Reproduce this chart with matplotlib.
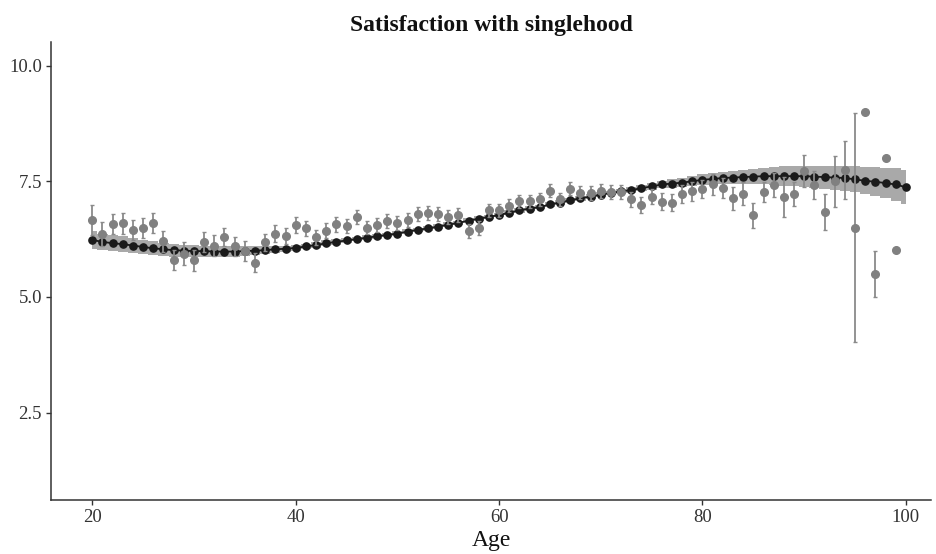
import numpy as np
import matplotlib
matplotlib.use("Agg")
import matplotlib.pyplot as plt

plt.rcParams['font.family'] = ['Liberation Serif', 'DejaVu Serif']

# ---- data ----
fit_age = list(range(20, 101))
fit_value = [6.23, 6.19, 6.16, 6.14, 6.11, 6.08, 6.05, 6.03, 6.01, 6.00,
             5.99, 5.99, 5.98, 5.98, 5.98, 5.99, 6.00, 6.01, 6.03, 6.04,
             6.06, 6.09, 6.12, 6.16, 6.19, 6.22, 6.25, 6.28, 6.31, 6.34,
             6.37, 6.41, 6.45, 6.48, 6.52, 6.56, 6.60, 6.65, 6.69, 6.73,
             6.77, 6.82, 6.87, 6.91, 6.94, 7.00, 7.04, 7.09, 7.13, 7.17,
             7.21, 7.25, 7.28, 7.31, 7.35, 7.39, 7.43, 7.45, 7.47, 7.50,
             7.53, 7.55, 7.57, 7.58, 7.59, 7.60, 7.61, 7.61, 7.61, 7.61,
             7.61, 7.60, 7.59, 7.58, 7.57, 7.54, 7.51, 7.49, 7.46, 7.43,
             7.37]
fit_halfwidth = [0.19, 0.18, 0.17, 0.17, 0.16, 0.15, 0.15, 0.14, 0.14, 0.13,
                 0.13, 0.12, 0.12, 0.11, 0.11, 0.10, 0.09, 0.08, 0.08, 0.07,
                 0.07, 0.06, 0.06, 0.06, 0.06, 0.05, 0.05, 0.05, 0.05, 0.05,
                 0.05, 0.05, 0.05, 0.05, 0.05, 0.05, 0.05, 0.05, 0.05, 0.05,
                 0.05, 0.05, 0.05, 0.05, 0.05, 0.05, 0.05, 0.05, 0.05, 0.05,
                 0.05, 0.05, 0.06, 0.06, 0.07, 0.07, 0.08, 0.09, 0.10, 0.11,
                 0.12, 0.13, 0.14, 0.15, 0.16, 0.17, 0.18, 0.19, 0.21, 0.22,
                 0.23, 0.24, 0.25, 0.26, 0.27, 0.28, 0.29, 0.31, 0.33, 0.35,
                 0.37]

obs_age = list(range(20, 100))
obs_mean = [6.66, 6.36, 6.57, 6.59, 6.45, 6.49, 6.60, 6.20, 5.80, 5.93,
            5.79, 6.18, 6.11, 6.30, 6.09, 5.99, 5.74, 6.18, 6.37, 6.32,
            6.56, 6.48, 6.29, 6.43, 6.57, 6.53, 6.73, 6.50, 6.55, 6.65,
            6.59, 6.66, 6.80, 6.82, 6.79, 6.73, 6.77, 6.42, 6.49, 6.87,
            6.87, 6.97, 7.07, 7.07, 7.11, 7.30, 7.11, 7.34, 7.25, 7.25,
            7.29, 7.27, 7.27, 7.11, 6.99, 7.17, 7.06, 7.04, 7.23, 7.28,
            7.33, 7.43, 7.36, 7.13, 7.23, 6.76, 7.27, 7.42, 7.16, 7.23,
            7.72, 7.42, 6.84, 7.50, 7.75, 6.50, 9.00, 5.49, 8.00, 6.02]
obs_err = [0.32, 0.25, 0.22, 0.22, 0.22, 0.22, 0.22, 0.22, 0.22, 0.25,
           0.22, 0.22, 0.22, 0.20, 0.20, 0.22, 0.20, 0.18, 0.18, 0.17,
           0.17, 0.16, 0.16, 0.16, 0.16, 0.15, 0.15, 0.15, 0.15, 0.15,
           0.15, 0.15, 0.15, 0.15, 0.15, 0.15, 0.15, 0.15, 0.15, 0.14,
           0.14, 0.14, 0.14, 0.14, 0.14, 0.14, 0.14, 0.14, 0.14, 0.15,
           0.15, 0.15, 0.15, 0.16, 0.17, 0.17, 0.18, 0.18, 0.19, 0.20,
           0.20, 0.22, 0.22, 0.25, 0.25, 0.28, 0.22, 0.26, 0.44, 0.26,
           0.35, 0.31, 0.39, 0.55, 0.63, 2.48, 0.0, 0.50, 0.0, 0.0]

x_ticks = [20, 40, 60, 80, 100]
y_ticks = [2.5, 5.0, 7.5, 10.0]
y_ticklabels = ["2.5", "5.0", "7.5", "10.0"]

# ---- figure ----
fig = plt.figure(figsize=(9.36, 5.54), dpi=100)
ax = fig.add_axes([51/936, 1 - 500/554, (931 - 51)/936, (500 - 42)/554])

fa = np.array(fit_age, dtype=float)
fv = np.array(fit_value)
fh = np.array(fit_halfwidth)
ax.fill_between(fa, fv - fh, fv + fh, step='mid', color='#a9a9a9',
                linewidth=0, zorder=1)
ax.plot(fa, fv, '-o', color='#1a1a1a', lw=1.3, ms=5.2, zorder=2)

oe = np.array(obs_err)
ax.errorbar(obs_age, obs_mean, yerr=np.where(oe > 0, oe, np.nan), fmt='o',
            color='#808080', ecolor='#8a8a8a', ms=5.5, elinewidth=1.3,
            capsize=1.5, capthick=1.0, zorder=3)

ax.set_xlim(15.94, 102.47)
ax.set_ylim(0.61, 10.51)
ax.set_xticks(x_ticks)
ax.set_yticks(y_ticks)
ax.set_yticklabels(y_ticklabels)

for s in ['top', 'right']:
    ax.spines[s].set_visible(False)
for s in ['left', 'bottom']:
    ax.spines[s].set_color('#333333')
    ax.spines[s].set_linewidth(1.1)
ax.tick_params(axis='both', length=3.5, width=1.0, color='#333333',
               labelsize=13.5, labelcolor='#333333', pad=3)

ax.set_xlabel("Age", fontsize=17, color='#111111', labelpad=3)
ax.set_title("Satisfaction with singlehood", fontsize=17, fontweight='bold',
             color='#111111', pad=8)

fig.savefig("out.png", dpi=100)
